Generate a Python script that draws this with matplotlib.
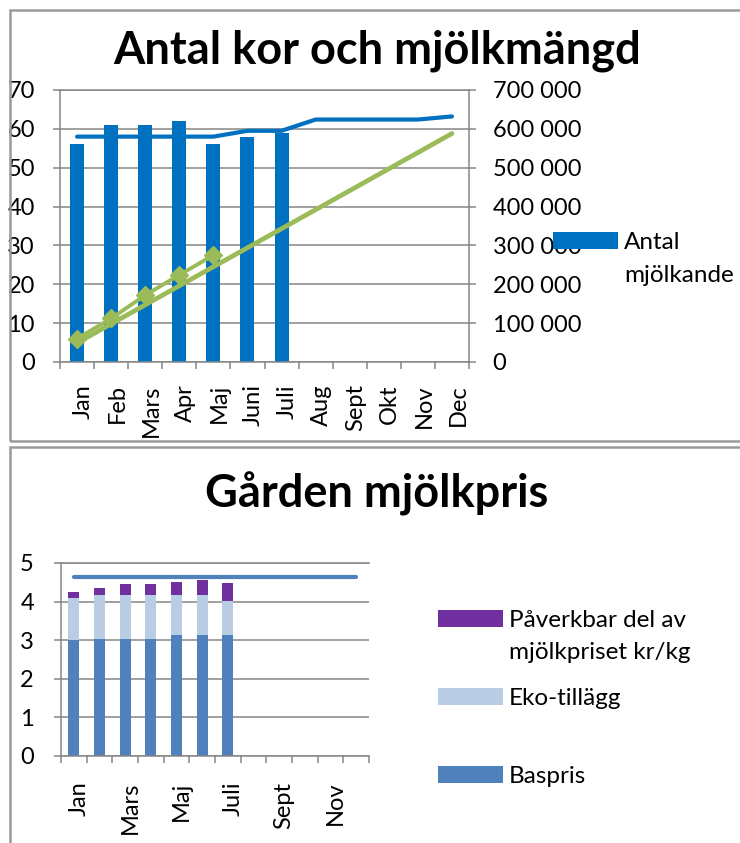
import matplotlib
matplotlib.use('Agg')
import matplotlib.pyplot as plt
from matplotlib.patches import Rectangle
from matplotlib.transforms import ScaledTranslation
import numpy as np

# ---------------- data ----------------
months = ['Jan', 'Feb', 'Mars', 'Apr', 'Maj', 'Juni', 'Juli', 'Aug', 'Sept', 'Okt', 'Nov', 'Dec']
cows_bar = [56, 61, 61, 62, 56, 58, 59]
cows_line = [58, 58, 58, 58, 58, 59.5, 59.5, 62.4, 62.4, 62.4, 62.4, 63.2]
milk_actual = [60000, 112000, 172000, 224000, 275000]
milk_target = [49000, 98000, 147000, 196000, 245000, 294000, 343000,
               392000, 441000, 490000, 539000, 588000]
left_ticks = [0, 10, 20, 30, 40, 50, 60, 70]
right_ticks = [0, 100000, 200000, 300000, 400000, 500000, 600000, 700000]
right_tick_labels = ['0', '100 000', '200 000', '300 000', '400 000', '500 000', '600 000', '700 000']

baspris = [3.00, 3.03, 3.03, 3.03, 3.13, 3.13, 3.13]
eko = [1.10, 1.13, 1.13, 1.13, 1.03, 1.03, 0.89]
paverkbar = [0.16, 0.20, 0.29, 0.29, 0.36, 0.39, 0.45]
price_line = [4.63, 4.63, 4.63, 4.63, 4.63, 4.63, 4.63, 4.63, 4.63, 4.63, 4.63, 4.63]
price_ticks = [0, 1, 2, 3, 4, 5]
price_month_labels = ['Jan', 'Mars', 'Maj', 'Juli', 'Sept', 'Nov']

# ---------------- style ----------------
plt.rcParams['font.family'] = ['Lato', 'DejaVu Sans']
GREY = '#868686'
BLUE = '#0070C0'
GREEN = '#9BBB59'
FS = 17
LFS = 17.5
TFS = 32.5

W, H = 740, 843
fig = plt.figure(figsize=(W / 100, H / 100), dpi=100)


def fbox(x0, y0, x1, y1):
    return [x0 / W, 1 - y1 / H, (x1 - x0) / W, (y1 - y0) / H]


def shift_xlabels(ax, dx_px):
    off = ScaledTranslation(dx_px / 100, 0, fig.dpi_scale_trans)
    for lab in ax.get_xticklabels():
        lab.set_transform(lab.get_transform() + off)


# chart frames
for (x0, y0, x1, y1) in [(9.5, 9.5, 780, 441), (9.5, 447.5, 780, 900)]:
    fig.add_artist(Rectangle((x0 / W, 1 - y1 / H), (x1 - x0) / W, (y1 - y0) / H,
                             transform=fig.transFigure, fill=False,
                             ec='#9a9a9a', lw=1.8, clip_on=False))

# ---------------- top chart ----------------
x = np.arange(len(months))
ax1 = fig.add_axes(fbox(60, 90, 469, 362))
ax1.bar(x[:len(cows_bar)], cows_bar, width=0.41, color=BLUE, zorder=2)
ax1.plot(x, cows_line, color=BLUE, lw=3.0, solid_capstyle='round', zorder=3)
ax1.set_xlim(-0.5, 11.5)
ax1.set_ylim(0, 70)
ax1.set_yticks(left_ticks)
ax1.yaxis.grid(True, color=GREY, lw=1.1)
ax1.set_axisbelow(True)
ax1.spines['right'].set_visible(False)
for s in ['left', 'bottom', 'top']:
    ax1.spines[s].set_color(GREY)
    ax1.spines[s].set_linewidth(1.1)
ax1.tick_params(axis='y', direction='out', length=5, width=1.1, color=GREY,
                pad=13, labelsize=FS)
ax1.set_xticks(x)
ax1.set_xticklabels(months, rotation=90)
ax1.set_xticks(np.arange(-0.5, 12, 1), minor=True)
ax1.tick_params(axis='x', which='major', length=0, pad=16, labelsize=FS)
ax1.tick_params(axis='x', which='minor', direction='out', length=5, width=1.1, color=GREY)
shift_xlabels(ax1, 6)

ax1b = ax1.twinx()
ax1b.plot(x, milk_target, color=GREEN, lw=3.4, solid_capstyle='round', zorder=3)
ax1b.plot(x[:len(milk_actual)], milk_actual, color=GREEN, lw=2.8, marker='D',
          ms=8.8, mec=GREEN, mfc=GREEN, zorder=4)
ax1b.set_ylim(0, 700000)
ax1b.set_yticks(right_ticks)
ax1b.set_yticklabels(right_tick_labels)
for s in ['left', 'top', 'bottom']:
    ax1b.spines[s].set_visible(False)
ax1b.spines['right'].set_color(GREY)
ax1b.spines['right'].set_linewidth(1.1)
ax1b.tick_params(axis='y', direction='out', length=5, width=1.1, color=GREY,
                 pad=12, labelsize=FS)

fig.text(377 / W, 1 - 63 / H, 'Antal kor och mjölkmängd', ha='center', va='baseline',
         fontsize=TFS, fontweight='bold')

# top legend
fig.add_artist(Rectangle((553 / W, 1 - 249 / H), 65 / W, 17 / H, transform=fig.transFigure,
                         color=BLUE, lw=0))
fig.text(624 / W, 1 - 249 / H, 'Antal', va='baseline', fontsize=LFS)
fig.text(624 / W, 1 - 282 / H, 'mjölkande', va='baseline', fontsize=LFS)

# ---------------- bottom chart ----------------
ax2 = fig.add_axes(fbox(61, 563, 369, 756))
n = len(baspris)
ax2.bar(x[:n], baspris, width=0.44, color='#4F81BD', zorder=2)
ax2.bar(x[:n], eko, bottom=baspris, width=0.44, color='#B9CDE5', zorder=2)
ax2.bar(x[:n], paverkbar, bottom=np.add(baspris, eko), width=0.44, color='#7030A0', zorder=2)
ax2.plot(x, price_line, color='#4F81BD', lw=3.0, solid_capstyle='round', zorder=3)
ax2.set_xlim(-0.5, 11.5)
ax2.set_ylim(0, 5)
ax2.set_yticks(price_ticks)
ax2.yaxis.grid(True, color=GREY, lw=1.1)
ax2.set_axisbelow(True)
ax2.spines['right'].set_visible(False)
for s in ['left', 'bottom', 'top']:
    ax2.spines[s].set_color(GREY)
    ax2.spines[s].set_linewidth(1.1)
ax2.tick_params(axis='y', direction='out', length=5, width=1.1, color=GREY,
                pad=14.5, labelsize=FS)
ax2.set_xticks(x[::2])
ax2.set_xticklabels(price_month_labels, rotation=90)
ax2.set_xticks(np.arange(-0.5, 12, 1), minor=True)
ax2.tick_params(axis='x', which='major', length=0, pad=18.5, labelsize=FS)
ax2.tick_params(axis='x', which='minor', direction='out', length=5, width=1.1, color=GREY)
shift_xlabels(ax2, 5)

fig.text(377 / W, 1 - 507 / H, 'Gården mjölkpris', ha='center', va='baseline',
         fontsize=TFS, fontweight='bold')

# bottom legend
legend_items = [
    ('#7030A0', 610, ['Påverkbar del av', 'mjölkpriset kr/kg']),
    ('#B9CDE5', 688, ['Eko-tillägg']),
    ('#4F81BD', 766, ['Baspris']),
]
for col, ytop, lines in legend_items:
    fig.add_artist(Rectangle((438 / W, 1 - (ytop + 17) / H), 65 / W, 17 / H,
                             transform=fig.transFigure, color=col, lw=0))
    for i, t in enumerate(lines):
        fig.text(509 / W, 1 - (ytop + 17 + 32 * i) / H, t, va='baseline', fontsize=LFS)

fig.savefig('out.png', dpi=100)
